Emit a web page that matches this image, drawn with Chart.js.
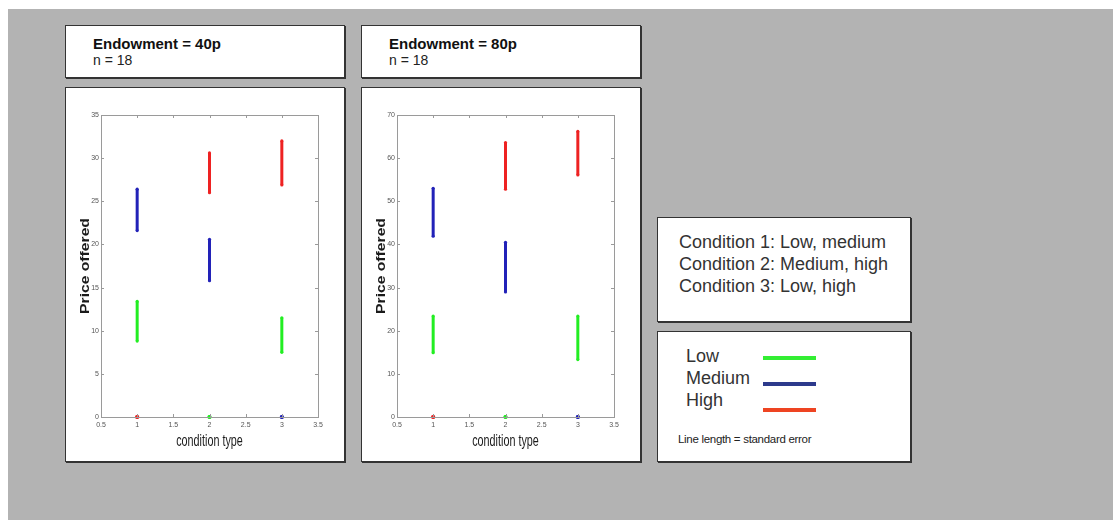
<!DOCTYPE html>
<html>
<head>
<meta charset="utf-8">
<title>Price offered by condition</title>
<script src="https://cdn.jsdelivr.net/npm/chart.js@4.4.1/dist/chart.umd.min.js"></script>
<style>
    body { margin: 0; background: #fff; font-family: 'Liberation Sans', Arial, sans-serif; }
    #page { position: absolute; left: 8px; top: 9px; width: 1105px; height: 511px; background: #b3b3b3; }
    .box { position: absolute; background: #fff; border: 1px solid #333; box-shadow: 1px 1px 0 #333; box-sizing: border-box; }
    .box canvas { position: absolute; left: 0; top: 0; }
    .head1 { position: absolute; left: 27px; top: 9px; font-size: 15px; font-weight: bold; color: #111; }
    .head2 { position: absolute; left: 27px; top: 26px; font-size: 14px; color: #222; }
    .cond { position: absolute; left: 21px; font-size: 18px; color: #333; }
    .key { position: absolute; left: 28px; font-size: 18px; color: #333; }
    .swatch { position: absolute; left: 105px; width: 53px; height: 4px; }
    .note { position: absolute; left: 20px; top: 101px; font-size: 11.5px; color: #222; letter-spacing: -0.3px; }
</style>
</head>
<body>
<div id="page"></div>

<div class="box" style="left:65px; top:25px; width:280px; height:53px;">
    <div class="head1">Endowment = 40p</div>
    <div class="head2">n = 18</div>
</div>
<div class="box" style="left:361px; top:25px; width:280px; height:53px;">
    <div class="head1">Endowment = 80p</div>
    <div class="head2">n = 18</div>
</div>

<div class="box" style="left:65px; top:87px; width:280px; height:375px;">
    <canvas id="chart40" width="278" height="373"></canvas>
</div>
<div class="box" style="left:361px; top:87px; width:280px; height:375px;">
    <canvas id="chart80" width="278" height="373"></canvas>
</div>

<div class="box" style="left:657px; top:217px; width:254px; height:105px;">
    <div class="cond" style="top:14px;">Condition 1: Low, medium</div>
    <div class="cond" style="top:36px;">Condition 2: Medium, high</div>
    <div class="cond" style="top:58px;">Condition 3: Low, high</div>
</div>
<div class="box" style="left:657px; top:331px; width:254px; height:131px;">
    <div class="key" style="top:14px;">Low</div>
    <div class="key" style="top:36px;">Medium</div>
    <div class="key" style="top:58px;">High</div>
    <div class="swatch" style="top:24px; background:#33ee33;"></div>
    <div class="swatch" style="top:50px; background:#2d3a8c;"></div>
    <div class="swatch" style="top:76px; background:#ee4422;"></div>
    <div class="note">Line length = standard error</div>
</div>

<script>
// condition types on the x axis
const conditions = [1, 2, 3];
const xTickValues = [0.5, 1, 1.5, 2, 2.5, 3, 3.5];
const yTicks40 = [0, 5, 10, 15, 20, 25, 30, 35];
const yTicks80 = [0, 10, 20, 30, 40, 50, 60, 70];
const xTitle = 'condition type';
const yTitle = 'Price offered';

// endowment 40p : bottom / top of each error bar (0,0 = not in that condition)
const low40Min = [8.8, 0, 7.5];
const low40Max = [13.4, 0, 11.5];
const med40Min = [21.6, 15.8, 0];
const med40Max = [26.4, 20.6, 0];
const high40Min = [0, 26.0, 26.9];
const high40Max = [0, 30.6, 32.0];

// endowment 80p
const low80Min = [14.9, 0, 13.3];
const low80Max = [23.4, 0, 23.4];
const med80Min = [41.9, 29.0, 0];
const med80Max = [53.0, 40.5, 0];
const high80Min = [0, 52.8, 56.1];
const high80Max = [0, 63.6, 66.2];

const lowColor = '#22ee22';
const medColor = '#2222b8';
const highColor = '#ee2222';

// one small dataset per vertical bar
function barSets(mins, maxs, color) {
    return conditions.map((c, i) => ({
        data: [{ x: c, y: mins[i] }, { x: c, y: maxs[i] }],
        showLine: true,
        borderColor: color,
        backgroundColor: color,
        borderWidth: 3,
        pointRadius: maxs[i] === 0 ? 2 : 1.6,
        pointBorderWidth: 0,
        clip: false
    }));
}

// matlab style box with inward tick marks
const frameTicks = {
    id: 'frameTicks',
    afterDraw(chart) {
        const ctx = chart.ctx;
        const a = chart.chartArea;
        const xs = chart.scales.x, ys = chart.scales.y;
        ctx.save();
        ctx.strokeStyle = '#9a9a9a';
        ctx.lineWidth = 1;
        ctx.strokeRect(a.left + 0.5, a.top + 0.5, a.right - a.left, a.bottom - a.top);
        ctx.beginPath();
        ys.ticks.forEach(t => {
            const y = Math.round(ys.getPixelForValue(t.value)) + 0.5;
            ctx.moveTo(a.left, y); ctx.lineTo(a.left + 3, y);
            ctx.moveTo(a.right, y); ctx.lineTo(a.right - 3, y);
        });
        xs.ticks.forEach(t => {
            const x = Math.round(xs.getPixelForValue(t.value)) + 0.5;
            ctx.moveTo(x, a.bottom); ctx.lineTo(x, a.bottom - 3);
            ctx.moveTo(x, a.top); ctx.lineTo(x, a.top + 3);
        });
        ctx.stroke();
        ctx.restore();
    }
};

// axis titles: condensed x title, stretched bold y title
const axisTitles = {
    id: 'axisTitles',
    afterDraw(chart) {
        const ctx = chart.ctx;
        const a = chart.chartArea;
        ctx.save();
        ctx.fillStyle = '#1a1a1a';
        ctx.textAlign = 'center';
        ctx.textBaseline = 'middle';

        ctx.save();
        ctx.translate((a.left + a.right) / 2, a.bottom + 25);
        ctx.scale(0.72, 1.05);
        ctx.font = "15px 'Liberation Sans', Arial, sans-serif";
        ctx.fillText(xTitle, 0, 0);
        ctx.restore();

        ctx.save();
        ctx.translate(20, (a.top + a.bottom) / 2);
        ctx.rotate(-Math.PI / 2);
        ctx.scale(1.12, 0.85);
        ctx.font = "bold 14px 'Liberation Sans', Arial, sans-serif";
        ctx.fillText(yTitle, 0, 0);
        ctx.restore();

        ctx.restore();
    }
};

function makeChart(id, datasets, yTicks) {
    const ctx = document.getElementById(id).getContext('2d');
    return new Chart(ctx, {
        type: 'scatter',
        data: { datasets: datasets },
        options: {
            responsive: false,
            animation: false,
            devicePixelRatio: 1,
            layout: { padding: { top: 27, right: 26, left: 0, bottom: 0 } },
            plugins: { legend: { display: false }, tooltip: { enabled: false } },
            scales: {
                x: {
                    type: 'linear',
                    min: 0.5,
                    max: 3.5,
                    afterBuildTicks: s => { s.ticks = xTickValues.map(v => ({ value: v })); },
                    afterFit: s => { s.height = 44; },
                    grid: { display: false, drawTicks: false },
                    border: { color: '#8a8a8a' },
                    ticks: {
                        padding: 4,
                        color: '#555',
                        font: { family: "'Liberation Sans', Arial, sans-serif", size: 7 },
                        callback: v => String(v)
                    }
                },
                y: {
                    type: 'linear',
                    min: yTicks[0],
                    max: yTicks[yTicks.length - 1],
                    afterBuildTicks: s => { s.ticks = yTicks.map(v => ({ value: v })); },
                    afterFit: s => { s.width = 35; },
                    grid: { display: false, drawTicks: false },
                    border: { color: '#8a8a8a' },
                    ticks: {
                        padding: 2,
                        color: '#555',
                        font: { family: "'Liberation Sans', Arial, sans-serif", size: 7 },
                        callback: v => String(v)
                    }
                }
            }
        },
        plugins: [frameTicks, axisTitles]
    });
}

let chart40, chart80;
document.addEventListener('DOMContentLoaded', function() {
    chart40 = makeChart('chart40', [
        ...barSets(low40Min, low40Max, lowColor),
        ...barSets(med40Min, med40Max, medColor),
        ...barSets(high40Min, high40Max, highColor)
    ], yTicks40);

    chart80 = makeChart('chart80', [
        ...barSets(low80Min, low80Max, lowColor),
        ...barSets(med80Min, med80Max, medColor),
        ...barSets(high80Min, high80Max, highColor)
    ], yTicks80);
});
</script>
</body>
</html>
